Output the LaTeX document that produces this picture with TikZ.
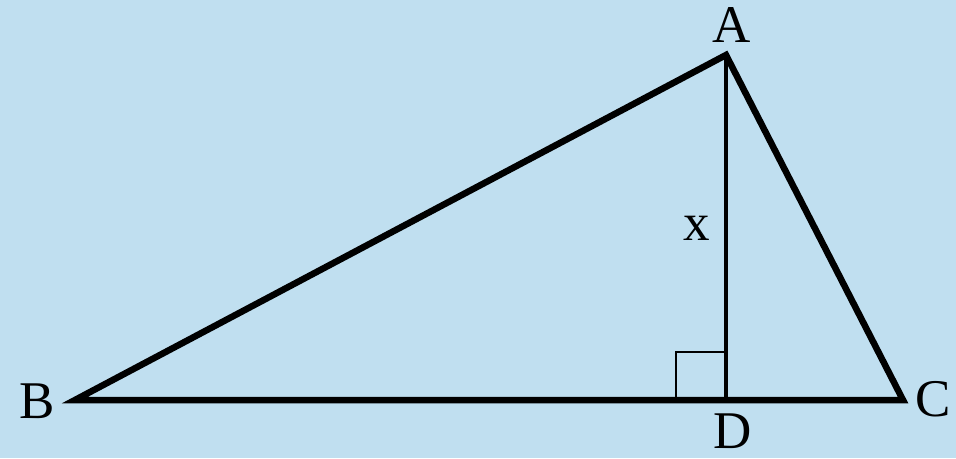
\documentclass[tikz,border=0pt]{standalone}
\usepackage{fontspec}
\setmainfont{Liberation Serif}
\definecolor{bgc}{RGB}{192,223,240}
\tikzset{side/.style={line width=6.5pt,line join=miter,line cap=round},
 alt/.style={line width=3.5pt},
 rmark/.style={line width=1.5pt},
 lab/.style={font=\fontsize{53}{60}\selectfont,inner sep=0pt}}
\begin{document}
\begin{tikzpicture}[x=1pt,y=-1pt]
\fill[bgc] (0,0) rectangle (956,458);
\useasboundingbox (0,0) rectangle (956,458);
\coordinate (A) at (726,55);\coordinate (B) at (75,400);\coordinate (C) at (903,400);\coordinate (D) at (726,400);
\draw[rmark] (676,400)--(676,352)--(726,352);
\draw[alt] (A)--(D);
\draw[side] (A)--(B)--(C)--cycle;
\node[lab] (la) at (732,25) {A};\node[lab] (lb) at (37,401) {B};
\node[lab] (lc) at (933,399) {C};\node[lab] (ld) at (733,431) {D};
\node[lab] (lx) at (697,228) {x};
\end{tikzpicture}
\end{document}
